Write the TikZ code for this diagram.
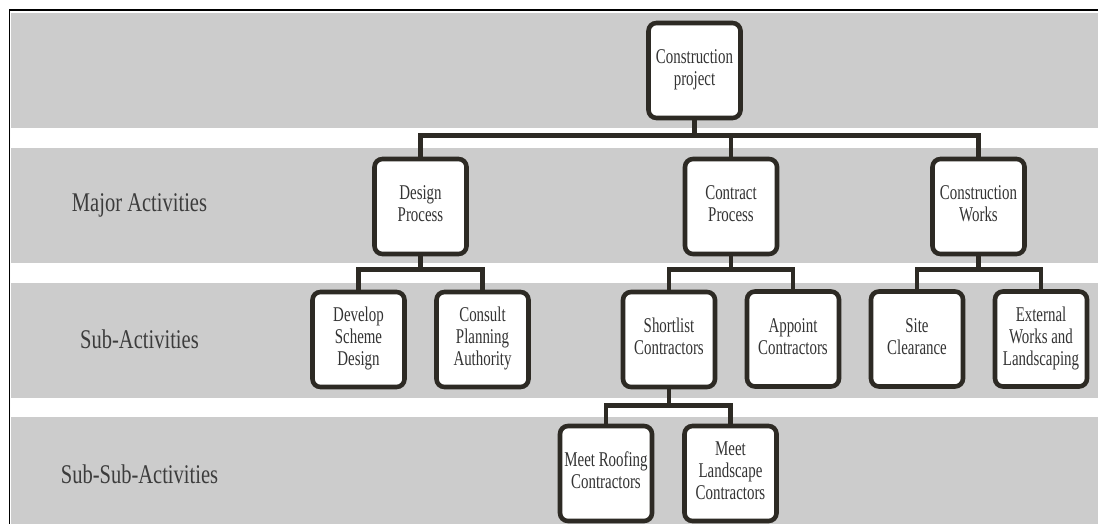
\documentclass[tikz,border=0pt]{standalone}
\usepackage{graphicx}
\usepackage{fontspec}
\setmainfont{Liberation Serif}
\usetikzlibrary{calc}
\definecolor{bandgray}{HTML}{CCCCCC}
\definecolor{boxline}{HTML}{2D2A24}
\definecolor{boxtext}{HTML}{333333}
\definecolor{labeltext}{HTML}{3C3C3C}
\newcommand\bxt[1]{\scalebox{0.71}[1]{\begin{tabular}{@{}c@{}}#1\end{tabular}}}
\newcommand\lvt[1]{\scalebox{0.76}[1]{#1}}
\tikzset{
  wbs/.style={draw=boxline, line width=4.6pt, fill=white, rounded corners=8pt,
    minimum width=92pt, minimum height=95pt, inner sep=0pt, outer sep=0pt,
    text=boxtext, font=\fontsize{21}{22}\selectfont},
  conn/.style={draw=boxline, line width=4.2pt, line join=miter},
  lvl/.style={text=labeltext, font=\fontsize{27}{30}\selectfont, inner sep=0pt},
  band/.style={fill=bandgray, draw=none}
}
\begin{document}
\begin{tikzpicture}[x=1pt, y=-1pt]
\useasboundingbox (0,0) rectangle (1098,524);
% bands
\fill[band] (11,13) rectangle (1098,128);
\fill[band] (11,148) rectangle (1098,263);
\fill[band] (11,283) rectangle (1098,398);
\fill[band] (11,417) rectangle (1098,524);
% frame
\draw[black, line width=1.8pt] (9.5,524) -- (9.5,10) -- (1098,10);
% level labels
\node[lvl] (lmajor) at (139.5,205) {\lvt{Major Activities}};
\node[lvl] (lsub) at (139.5,339) {\lvt{Sub-Activities}};
\node[lvl] (lsubsub) at (139.5,474) {\lvt{Sub-Sub-Activities}};
% boxes
\node[wbs] (root) at (694.5,70.5) {\bxt{Construction\\project}};
\node[wbs] (design) at (420.5,206.5) {\bxt{Design\\Process}};
\node[wbs] (contract) at (731,206.5) {\bxt{Contract\\Process}};
\node[wbs] (works) at (978.5,206.5) {\bxt{Construction\\Works}};
\node[wbs] (develop) at (358.5,339.5) {\bxt{Develop\\Scheme\\Design}};
\node[wbs] (consult) at (482.5,339.5) {\bxt{Consult\\Planning\\Authority}};
\node[wbs] (shortlist) at (669,339.5) {\bxt{Shortlist\\Contractors}};
\node[wbs] (appoint) at (793,339) {\bxt{Appoint\\Contractors}};
\node[wbs] (site) at (917,339) {\bxt{Site\\Clearance}};
\node[wbs] (external) at (1041,339) {\bxt{External\\Works and\\Landscaping}};
\node[wbs] (roofing) at (606,473.5) {\bxt{Meet Roofing\\Contractors}};
\node[wbs] (landscape) at (730.5,473.5) {\bxt{Meet\\Landscape\\Contractors}};
% bus coordinates
\coordinate (b1) at ($(root.south)+(0,17.5)$);
\coordinate (b2) at ($(design.south)+(0,15.5)$);
\coordinate (b3) at ($(contract.south)+(0,15.5)$);
\coordinate (b4) at ($(works.south)+(0,15.5)$);
\coordinate (b5) at ($(shortlist.south)+(0,18.5)$);
% connectors
\draw[conn] (root.south) -- (b1);
\draw[conn] (design.north) |- (b1) -| (works.north);
\draw[conn] (b1 -| contract.north) -- (contract.north);
\draw[conn] (design.south) -- (b2);
\draw[conn] (develop.north) |- (b2) -| (consult.north);
\draw[conn] (contract.south) -- (b3);
\draw[conn] (shortlist.north) |- (b3) -| (appoint.north);
\draw[conn] (works.south) -- (b4);
\draw[conn] (site.north) |- (b4) -| (external.north);
\draw[conn] (shortlist.south) -- (b5);
\draw[conn] (roofing.north) |- (b5) -| (landscape.north);
\end{tikzpicture}
\end{document}
